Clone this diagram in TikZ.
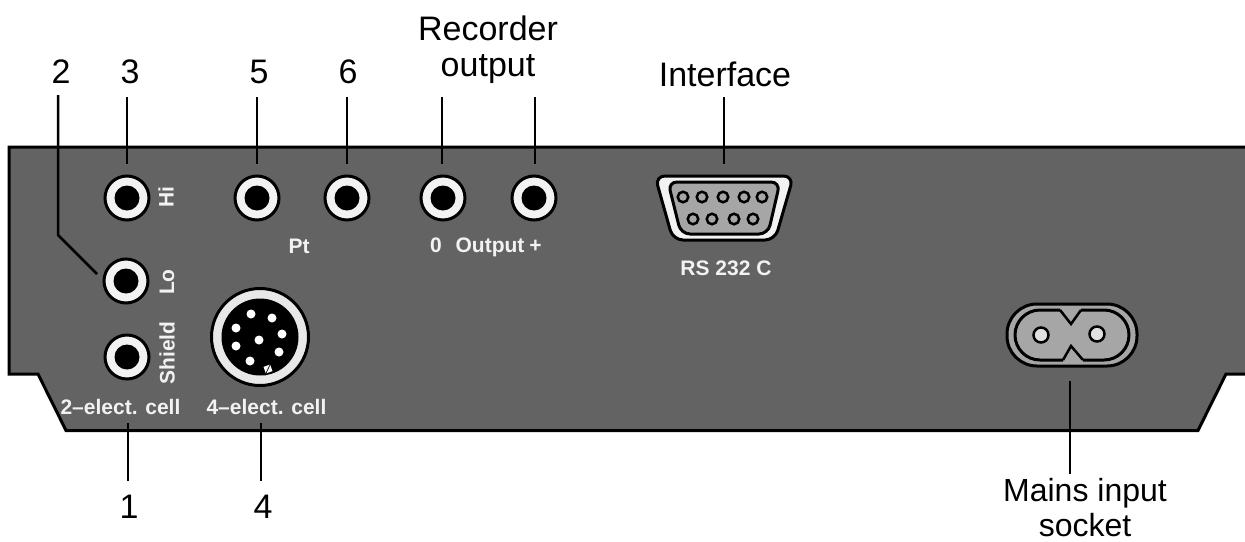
\documentclass[tikz,border=0pt]{standalone}
\usepackage{fontspec}
\setmainfont{Liberation Sans}
\definecolor{panel}{HTML}{636363}
\definecolor{ringlight}{HTML}{F2F2F2}
\definecolor{shellgrey}{HTML}{A6A6A6}
\begin{document}
\begin{tikzpicture}[x=1pt,y=-1pt,line width=3pt,line join=miter,
	callout/.style={font=\fontsize{34}{36}\selectfont,inner sep=0pt,align=center},
	tag/.style={font=\fontsize{21}{24}\selectfont\bfseries,text=ringlight,inner sep=0pt},
	baseline tag/.style={tag,anchor=base},
	leader/.style={line width=2.5pt},
	jack/.style={circle,draw,fill=ringlight,minimum size=44pt,inner sep=0pt},
	jackcore/.style={circle,fill=black,minimum size=25pt,inner sep=0pt},
	din/.style={circle,fill=white,minimum size=9pt,inner sep=0pt},
	subpin/.style={circle,draw,fill=shellgrey,minimum size=10.5pt,inner sep=0pt,line width=2.5pt},
	mainspin/.style={circle,draw,fill=black!12,minimum size=15pt,inner sep=0pt,line width=2.5pt}]
	\useasboundingbox (0,0) rectangle (1245,541);

	% Gehaeuse
	\draw[fill=panel] (1248,147) -- (9,147) -- (9,374) -- (38,374) -- (66,430.5) -- (1198,430.5) -- (1226,374) -- (1248,374);

	% Buchsen
	\foreach \name/\x/\y in {hi/127/198,lo/126/281,shield/127/357,five/257/198,six/347/198,zero/443/198,plus/534/198} {
		\node[jack] (\name) at (\x,\y) {};
		\node[jackcore] at (\name) {};
	}

	% Rundstecker
	\node[circle,draw,fill=black!9,minimum size=97pt,inner sep=0pt] (din4) at (260,337) {};
	\node[circle,fill=black,minimum size=77pt,inner sep=0pt] at (din4) {};
	\foreach \x/\y in {251/314,272/318,282/334,279/352,250/361,236/346,236/328,259/340}
		\node[din] at (\x,\y) {};
	\node[fill=white,minimum size=7pt,inner sep=0pt,rotate=20] (notch) at (268,369) {};
	\draw[line width=0.7pt] (notch.south west) -- (notch.north east);

	% Sub-D
	\draw[fill=ringlight,rounded corners=10pt] (655,176) -- (793.5,176) -- (775,240) -- (673,240) -- cycle;
	\draw[fill=shellgrey,rounded corners=9pt] (668,182) -- (780,182) -- (768,234) -- (681,234) -- cycle;
	\foreach \x in {683,702,723,744,762}
		\node[subpin] at (\x,197) {};
	\foreach \x in {693,712,734,753}
		\node[subpin] at (\x,219) {};

	% Netzbuchse
	\draw[fill=shellgrey,rounded corners=30pt] (1007,304) rectangle (1137,366);
	\draw[rounded corners=25pt] (1060,310) -- (1015,310) -- (1015,360) -- (1063,360);
	\draw[rounded corners=25pt] (1081,310) -- (1129,310) -- (1129,360) -- (1083,360);
	\draw[line width=2.5pt] (1060,310) -- (1071,324) -- (1081,310);
	\draw[line width=2.5pt] (1063,360) -- (1071,346) -- (1083,360);
	\node[mainspin] at (1041,335) {};
	\node[mainspin] at (1097,334) {};

	% Beschriftung im Gehaeuse
	\node[tag,rotate=90] at (166,197) {Hi};
	\node[tag,rotate=90] at (167,282) {Lo};
	\node[tag,rotate=90] at (167,353) {Shield};
	\node[baseline tag] at (120.5,414) {2–elect. cell};
	\node[baseline tag] at (266.5,414) {4–elect. cell};
	\node[baseline tag] at (299,253) {Pt};
	\node[baseline tag] at (436,252) {0};
	\node[baseline tag] at (490,252) {Output};
	\node[baseline tag] at (535.5,252) {+};
	\node[baseline tag] at (726,275) {RS 232 C};

	% Nummern
	\node[callout] (lbl2) at (61,72) {2};
	\node[callout] (lbl3) at (130,72) {3};
	\node[callout] (lbl5) at (259,72) {5};
	\node[callout] (lbl6) at (348,72) {6};
	\node[callout] (lblrec) at (488,50) {Recorder\\output};
	\node[callout] (lblif) at (725,74) {Interface};
	\node[callout] (lbl1) at (129,507) {1};
	\node[callout] (lbl4) at (263,507) {4};
	\node[callout,font=\fontsize{32}{35}\selectfont] (lblmains) at (1085,507.5) {Mains input\\socket};

	% Hinweislinien
	\coordinate (top2) at (58,95);
	\coordinate (top3) at (127,97);
	\coordinate (top5) at (257,97);
	\coordinate (top6) at (347,97);
	\coordinate (top0) at (442,97);
	\coordinate (topplus) at (535,97);
	\coordinate (topif) at (724,97);
	\coordinate (bot1) at (128,481);
	\coordinate (bot4) at (261,481);
	\coordinate (botmains) at (1070,474);
	\draw[leader] (top2) -- (58,235) -- (97,274);
	\draw[leader] (top3) -- (127,164);
	\draw[leader] (top5) -- (257,164);
	\draw[leader] (top6) -- (347,164);
	\draw[leader] (top0) -- (442,164);
	\draw[leader] (topplus) -- (535,164);
	\draw[leader] (topif) -- (724,164);
	\draw[leader] (128,423) -- (bot1);
	\draw[leader] (261,423) -- (bot4);
	\draw[leader] (1070,381) -- (botmains);
\end{tikzpicture}
\end{document}
